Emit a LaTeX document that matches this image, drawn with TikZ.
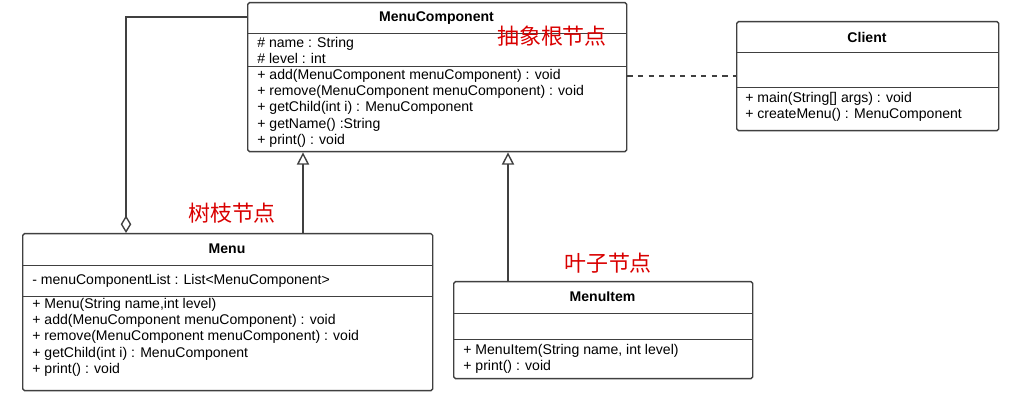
\documentclass[tikz,border=0pt]{standalone}
\usepackage{fontspec}
\setmainfont{Liberation Sans}
\newfontfamily\cjk{Noto Sans CJK SC}
\usetikzlibrary{arrows.meta, positioning}
\begin{document}
\begin{tikzpicture}[x=0.02cm, y=-0.02cm, arro/.style = {-{Triangle[open, length=7pt, width=7pt]}},
  agg/.style = {{Diamond[open, length=10pt, width=6pt]}-}]

\tikzstyle{cls} = [draw, thick, black!75, rounded corners=1pt, anchor=north west, inner sep=0pt]
\tikzstyle{title} = [font=\fontsize{8}{9}\selectfont\bfseries]
\tikzstyle{body} = [font=\fontsize{8}{9.2}\selectfont, align=left, anchor=north west, inner sep=0pt]
\tikzstyle{note} = [font=\cjk\fontsize{12.5}{14}\selectfont, text=red!85!black]

\useasboundingbox (0,0) rectangle (1016,404);

% abstract root
\node[cls, minimum width=379*0.02cm, minimum height=149*0.02cm] at (247,2) (comp) {};
\draw[black!75] (247,33) -- (626,33) (247,66) -- (626,66);
\node[title] at (436.5,18) (compt) {MenuComponent};
\node[body] at (257,37) (compa) {\# name : String\\\# level : int};
\node[body] at (257,69) (compm) {+ add(MenuComponent menuComponent) : void\\+ remove(MenuComponent menuComponent) : void\\+ getChild(int i) : MenuComponent\\+ getName() :String\\+ print() : void};

% client
\node[cls, minimum width=262*0.02cm, minimum height=109*0.02cm] at (736,21) (client) {};
\draw[black!75] (736,52) -- (998,52) (736,87) -- (998,87);
\node[title] at (867,37) (clientt) {Client};
\node[body] at (745,92) (clientm) {+ main(String[] args) : void\\+ createMenu() : MenuComponent};

% branch
\node[cls, minimum width=410*0.02cm, minimum height=157*0.02cm] at (22,233) (menu) {};
\draw[black!75] (22,265) -- (432,265) (22,296) -- (432,296);
\node[title] at (227,249) (menut) {Menu};
\node[body] at (32,274) (menua) {- menuComponentList : List<MenuComponent>};
\node[body] at (32,298) (menum) {+ Menu(String name,int level)\\+ add(MenuComponent menuComponent) : void\\+ remove(MenuComponent menuComponent) : void\\+ getChild(int i) : MenuComponent\\+ print() : void};

% leaf
\node[cls, minimum width=299*0.02cm, minimum height=97*0.02cm] at (453,281) (item) {};
\draw[black!75] (453,313) -- (752,313) (453,339) -- (752,339);
\node[title] at (602.5,297) (itemt) {MenuItem};
\node[body] at (463,344) (itemm) {+ MenuItem(String name, int level)\\+ print() : void};

% connections
\coordinate (aggtop) at (247,17);
\coordinate (aggcorner) at (126,17);
\coordinate (aggend) at (126,233);
\draw[agg, thick, black!75] (aggend) -- (aggcorner) -- (aggtop);
\draw[arro, thick, black!75] (menu.north west -| 303,0) -- (comp.south west -| 303,0);
\draw[arro, thick, black!75] (item.north west -| 508,0) -- (comp.south west -| 508,0);
\draw[thick, dashed, black!75] (comp.east |- 0,76) -- (client.west |- 0,76);

% labels
\node[note] at (552,36) (rootn) {抽象根节点};
\node[note] at (232,213) (branchn) {树枝节点};
\node[note] at (608,263) (leafn) {叶子节点};
\end{tikzpicture}
\end{document}
